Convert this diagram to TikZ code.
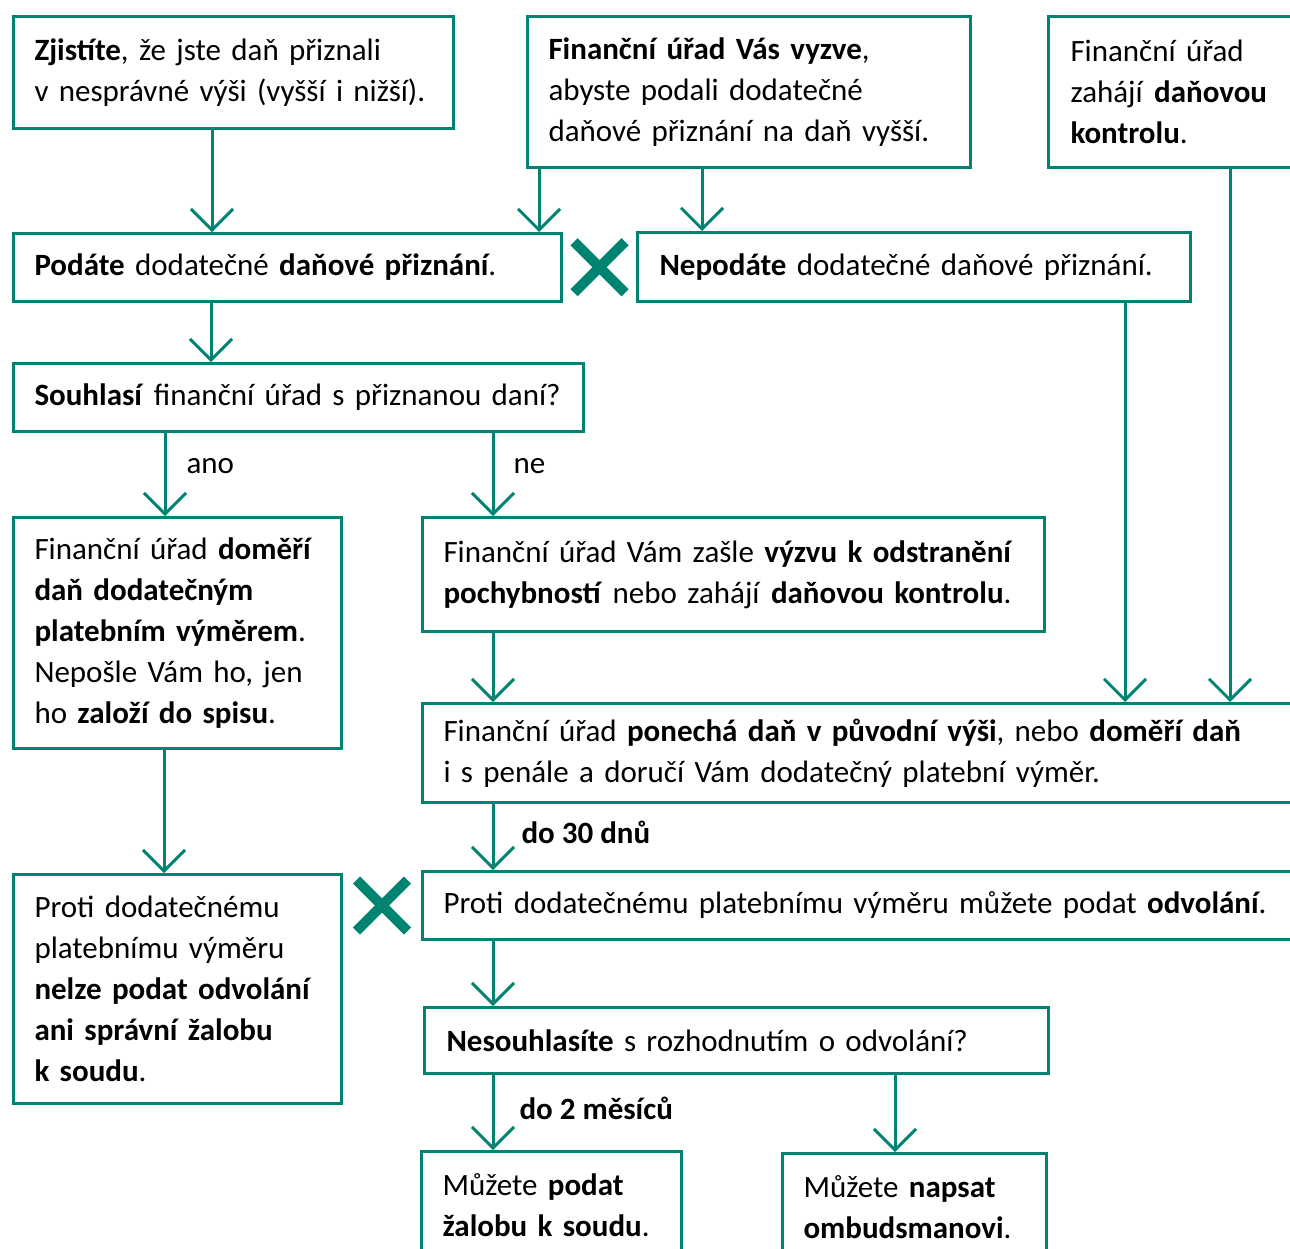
\documentclass[tikz,border=0pt]{standalone}
\usepackage{fontspec}
\setmainfont{Carlito}
\usepackage{xcolor}
\usepackage{tikz}
\usetikzlibrary{arrows.meta,shapes.misc,calc}
\definecolor{fugreen}{RGB}{0,132,113}

\begin{document}
\begin{tikzpicture}[x=1pt, y=-1pt, >={Straight Barb[length=21pt,width=42pt]}]
    \tikzstyle{box} = [draw=fugreen, line width=3pt, rectangle, anchor=north west, inner xsep=21pt, inner ysep=0pt, align=left, font=\fontsize{31}{41}\selectfont]
    \tikzstyle{line} = [draw=fugreen, ->, line width=3pt]
    \tikzstyle{lbl} = [inner sep=0pt, anchor=west, font=\fontsize{31}{41}\selectfont]
    \tikzstyle{nix} = [draw=fugreen, cross out, line width=10pt, minimum size=41pt, inner sep=0pt]

    \clip (0,0) rectangle (1290,1248);

    % top row
    \node [box, text width=398pt, minimum height=112pt] (b1) at (12,15) {\textbf{Zjistíte}, že jste daň přiznali\\v nesprávné výši (vyšší i nižší).};
    \node [box, text width=401pt, minimum height=151pt] (b2) at (526,15) {\textbf{Finanční úřad Vás vyzve},\\abyste podali dodatečné\\daňové přiznání na daň vyšší.};
    \node [box, text width=221pt, minimum height=151pt, inner xsep=22pt] (b3) at (1047,15) {Finanční úřad\\zahájí \textbf{daňovou}\\\textbf{kontrolu}.};

    \node [box, text width=506pt, minimum height=68pt] (b4) at (12,232) {\textbf{Podáte} dodatečné \textbf{daňové přiznání}.};
    \node [box, text width=509pt, minimum height=69pt, inner xsep=22pt] (b5) at (636,231) {\textbf{Nepodáte} dodatečné daňové přiznání.};
    \node [box, text width=528pt, minimum height=68pt] (b6) at (12,362) {\textbf{Souhlasí} finanční úřad s přiznanou daní?};

    % middle
    \node [box, text width=286pt, minimum height=231pt] (b7) at (12,516) {Finanční úřad \textbf{doměří}\\\textbf{daň dodatečným}\\\textbf{platebním výměrem}.\\Nepošle Vám ho, jen\\ho \textbf{založí do spisu}.};
    \node [box, text width=580pt, minimum height=114pt] (b8) at (421,516) {Finanční úřad Vám zašle \textbf{výzvu k odstranění}\\\textbf{pochybností} nebo zahájí \textbf{daňovou kontrolu}.};
    \node [box, text width=847pt, minimum height=99pt] (b9) at (421,702) {Finanční úřad \textbf{ponechá daň v původní výši}, nebo \textbf{doměří daň}\\i s penále a doručí Vám dodatečný platební výměr.};

    \node [box, text width=286pt, minimum height=229pt] (b10) at (12,873) {Proti dodatečnému\\platebnímu výměru\\\textbf{nelze podat odvolání}\\\textbf{ani správní žalobu}\\\textbf{k soudu}.};
    \node [box, text width=847pt, minimum height=68pt] (b11) at (421,870) {Proti dodatečnému platebnímu výměru můžete podat \textbf{odvolání}.};
    \node [box, text width=580pt, minimum height=66pt, inner xsep=22pt] (b12) at (423,1006) {\textbf{Nesouhlasíte} s rozhodnutím o odvolání?};

    % bottom
    \node [box, text width=218pt, minimum height=108pt] (b13) at (420,1150) {Můžete \textbf{podat}\\\textbf{žalobu k soudu}.};
    \node [box, text width=222pt, minimum height=108pt] (b14) at (781,1152) {Můžete \textbf{napsat}\\\textbf{ombudsmanovi}.};

    % crosses
    \node [nix] (x1) at ($(b4.east)!0.5!(b5.west)$) {};
    \node [nix] (x2) at ($(b11.west)!0.5!(b11.west -| b10.east)$) {};

    % connectors
    \draw [line] (212,0 |- b1.south) -- (212,0 |- b4.north);
    \draw [line] (539,0 |- b2.south) -- (539,0 |- b4.north);
    \draw [line] (702,0 |- b2.south) -- (702,0 |- b5.north);
    \draw [line] (211,0 |- b4.south) -- (211,0 |- b6.north);
    \draw [line] (165,0 |- b6.south) -- node[lbl, pos=0.4, xshift=20pt] {ano} (165,0 |- b7.north);
    \draw [line] (493,0 |- b6.south) -- node[lbl, pos=0.4, xshift=19pt] {ne} (493,0 |- b8.north);
    \draw [line] (493,0 |- b8.south) -- (493,0 |- b9.north);
    \draw [line] (1125,0 |- b5.south) -- (1125,0 |- b9.north);
    \draw [line] (1230,0 |- b3.south) -- (1230,0 |- b9.north);
    \draw [line] (164,0 |- b7.south) -- (164,0 |- b10.north);
    \draw [line] (493,0 |- b9.south) -- node[lbl, pos=0.43, xshift=27pt] {\textbf{do 30 dnů}} (493,0 |- b11.north);
    \draw [line] (493,0 |- b11.south) -- (493,0 |- b12.north);
    \draw [line] (493,0 |- b12.south) -- node[lbl, pos=0.45, xshift=25pt] {\textbf{do 2 měsíců}} (493,0 |- b13.north);
    \draw [line] (895,0 |- b12.south) -- (895,0 |- b14.north);
\end{tikzpicture}
\end{document}
